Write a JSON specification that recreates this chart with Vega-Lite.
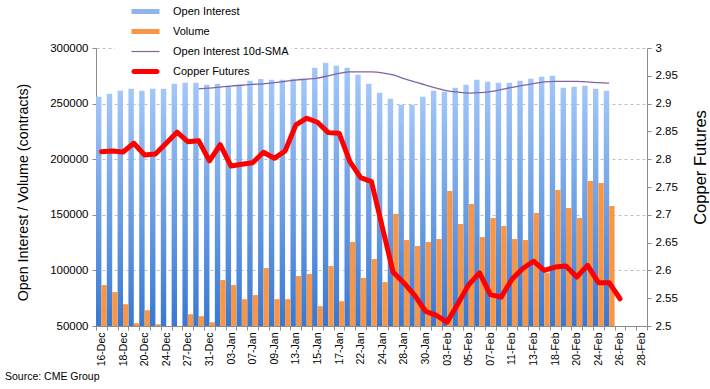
{
  "$schema": "https://vega.github.io/schema/vega-lite/v6.json",
  "width": 551,
  "height": 278,
  "autosize": {"type": "none"},
  "padding": {"left": 96, "top": 48, "right": 63, "bottom": 63},
  "background": "white",
  "config": {
    "view": {"stroke": null},
    "font": "Liberation Sans",
    "axis": {"domainColor": "#8c8c8c", "tickColor": "#8c8c8c", "labelColor": "#000000", "titleColor": "#000000", "titleFontWeight": "normal"}
  },
  "title": {"text": "Source: CME Group", "orient": "bottom", "anchor": "start", "frame": "group", "dx": -91, "offset": 6, "fontSize": 10.5, "fontWeight": "normal", "color": "#000000"},
  "data": {"values": [
    {"date": "16-Dec", "oi": 256100, "vol": 86800, "sma": null, "cu": 2.8135},
    {"date": "17-Dec", "oi": 258800, "vol": 80500, "sma": null, "cu": 2.8148},
    {"date": "18-Dec", "oi": 261500, "vol": 69600, "sma": null, "cu": 2.813},
    {"date": "19-Dec", "oi": 263300, "vol": 52500, "sma": null, "cu": 2.8286},
    {"date": "20-Dec", "oi": 261500, "vol": 64200, "sma": null, "cu": 2.8076},
    {"date": "23-Dec", "oi": 263300, "vol": 51600, "sma": null, "cu": 2.8094},
    {"date": "24-Dec", "oi": 263300, "vol": 50000, "sma": null, "cu": 2.8286},
    {"date": "26-Dec", "oi": 267800, "vol": 50000, "sma": null, "cu": 2.8485},
    {"date": "27-Dec", "oi": 268700, "vol": 60600, "sma": null, "cu": 2.8315},
    {"date": "30-Dec", "oi": 268700, "vol": 58800, "sma": 263300, "cu": 2.8333},
    {"date": "31-Dec", "oi": 266900, "vol": 53400, "sma": 264000, "cu": 2.797},
    {"date": "02-Jan", "oi": 267800, "vol": 91300, "sma": 264900, "cu": 2.826},
    {"date": "03-Jan", "oi": 266000, "vol": 86800, "sma": 265800, "cu": 2.7877},
    {"date": "06-Jan", "oi": 266900, "vol": 74100, "sma": 266500, "cu": 2.791},
    {"date": "07-Jan", "oi": 270500, "vol": 77800, "sma": 267200, "cu": 2.7937},
    {"date": "08-Jan", "oi": 272300, "vol": 102100, "sma": 267800, "cu": 2.8124},
    {"date": "09-Jan", "oi": 271400, "vol": 74100, "sma": 268800, "cu": 2.8016},
    {"date": "10-Jan", "oi": 271400, "vol": 74100, "sma": 270000, "cu": 2.8148},
    {"date": "13-Jan", "oi": 272300, "vol": 94900, "sma": 271200, "cu": 2.8616},
    {"date": "14-Jan", "oi": 272300, "vol": 96700, "sma": 272000, "cu": 2.8737},
    {"date": "15-Jan", "oi": 282300, "vol": 67800, "sma": 273000, "cu": 2.8665},
    {"date": "16-Jan", "oi": 286800, "vol": 103900, "sma": 275000, "cu": 2.8478},
    {"date": "17-Jan", "oi": 284100, "vol": 72300, "sma": 277100, "cu": 2.8467},
    {"date": "21-Jan", "oi": 282300, "vol": 125500, "sma": 278600, "cu": 2.7955},
    {"date": "22-Jan", "oi": 275900, "vol": 93100, "sma": 278600, "cu": 2.7667},
    {"date": "23-Jan", "oi": 267800, "vol": 110200, "sma": 278500, "cu": 2.7595},
    {"date": "24-Jan", "oi": 259700, "vol": 89500, "sma": 277700, "cu": 2.678},
    {"date": "27-Jan", "oi": 254300, "vol": 150700, "sma": 275800, "cu": 2.597},
    {"date": "28-Jan", "oi": 248900, "vol": 127300, "sma": 272500, "cu": 2.5775},
    {"date": "29-Jan", "oi": 248900, "vol": 121900, "sma": 269500, "cu": 2.555},
    {"date": "30-Jan", "oi": 256100, "vol": 125500, "sma": 266700, "cu": 2.5265},
    {"date": "31-Jan", "oi": 261500, "vol": 128200, "sma": 264000, "cu": 2.519},
    {"date": "03-Feb", "oi": 260600, "vol": 171400, "sma": 261500, "cu": 2.507},
    {"date": "04-Feb", "oi": 264200, "vol": 141700, "sma": 260300, "cu": 2.54},
    {"date": "05-Feb", "oi": 266900, "vol": 159700, "sma": 259500, "cu": 2.5745},
    {"date": "06-Feb", "oi": 271400, "vol": 130000, "sma": 259800, "cu": 2.5955},
    {"date": "07-Feb", "oi": 269600, "vol": 147100, "sma": 260800, "cu": 2.5565},
    {"date": "10-Feb", "oi": 268700, "vol": 139900, "sma": 262600, "cu": 2.552},
    {"date": "11-Feb", "oi": 268700, "vol": 128200, "sma": 264600, "cu": 2.584},
    {"date": "12-Feb", "oi": 270500, "vol": 127300, "sma": 266300, "cu": 2.6035},
    {"date": "13-Feb", "oi": 272300, "vol": 151600, "sma": 268000, "cu": 2.6165},
    {"date": "14-Feb", "oi": 274100, "vol": 97600, "sma": 269500, "cu": 2.6},
    {"date": "18-Feb", "oi": 275000, "vol": 172300, "sma": 270000, "cu": 2.606},
    {"date": "19-Feb", "oi": 264200, "vol": 156100, "sma": 270000, "cu": 2.608},
    {"date": "20-Feb", "oi": 265100, "vol": 147100, "sma": 269900, "cu": 2.588},
    {"date": "21-Feb", "oi": 266000, "vol": 180500, "sma": 269500, "cu": 2.609},
    {"date": "24-Feb", "oi": 263300, "vol": 178600, "sma": 268800, "cu": 2.578},
    {"date": "25-Feb", "oi": 261500, "vol": 157900, "sma": 268400, "cu": 2.578},
    {"date": "26-Feb", "oi": null, "vol": null, "sma": null, "cu": 2.549},
    {"date": "27-Feb", "oi": null, "vol": null, "sma": null, "cu": null},
    {"date": "28-Feb", "oi": null, "vol": null, "sma": null, "cu": null}
  ]},
  "encoding": {
    "x": {
      "field": "date", "type": "ordinal", "sort": null,
      "scale": {
        "domain": ["16-Dec","17-Dec","18-Dec","19-Dec","20-Dec","23-Dec","24-Dec","26-Dec","27-Dec","30-Dec","31-Dec","02-Jan","03-Jan","06-Jan","07-Jan","08-Jan","09-Jan","10-Jan","13-Jan","14-Jan","15-Jan","16-Jan","17-Jan","21-Jan","22-Jan","23-Jan","24-Jan","27-Jan","28-Jan","29-Jan","30-Jan","31-Jan","03-Feb","04-Feb","05-Feb","06-Feb","07-Feb","10-Feb","11-Feb","12-Feb","13-Feb","14-Feb","18-Feb","19-Feb","20-Feb","21-Feb","24-Feb","25-Feb","26-Feb","27-Feb","28-Feb"],
        "paddingInner": 0, "paddingOuter": 0
      },
      "axis": {
        "title": null,
        "labelAngle": -90,
        "labelFontSize": 10.5,
        "labelOverlap": false,
        "labelPadding": 2,
        "tickBand": "extent",
        "tickSize": 4,
        "labelExpr": "indexof(['16-Dec','18-Dec','20-Dec','24-Dec','27-Dec','31-Dec','03-Jan','07-Jan','09-Jan','13-Jan','15-Jan','17-Jan','22-Jan','24-Jan','28-Jan','30-Jan','03-Feb','05-Feb','07-Feb','11-Feb','13-Feb','18-Feb','20-Feb','24-Feb','26-Feb','28-Feb'], datum.value) >= 0 ? datum.label : ''"
      }
    }
  },
  "layer": [
    {
      "layer": [
        {
          "mark": {"type": "bar", "fill": {"gradient": "linear", "x1": 0, "y1": 0, "x2": 0, "y2": 1, "stops": [{"offset": 0, "color": "#A3C7F8"}, {"offset": 1, "color": "#3878D2"}]}},
          "encoding": {
            "xOffset": {"datum": "Open Interest", "scale": {"domain": ["Open Interest", "Volume"], "paddingInner": 0, "paddingOuter": 0}},
            "y": {
              "field": "oi", "type": "quantitative", "title": "Open Interest / Volume (contracts)",
              "scale": {"domain": [50000, 300000], "zero": false, "nice": false},
              "axis": {
                "values": [50000, 100000, 150000, 200000, 250000, 300000],
                "format": "d",
                "labelFontSize": 11.5,
                "labelPadding": 4,
                "tickSize": 4,
                "titleFontSize": 14.3,
                "titlePadding": 19,
                "titleY": 144,
                "grid": true,
                "gridColor": "#BDBDBD",
                "gridDash": [3, 3]
              }
            },
            "y2": {"datum": 50000}
          }
        },
        {
          "mark": {"type": "bar"},
          "encoding": {
            "xOffset": {"datum": "Volume", "scale": {"domain": ["Open Interest", "Volume"], "paddingInner": 0, "paddingOuter": 0}},
            "y": {"field": "vol", "type": "quantitative", "title": "Open Interest / Volume (contracts)"},
            "y2": {"datum": 50000},
            "color": {
              "datum": "Volume",
              "scale": {"domain": ["Open Interest", "Volume", "Open Interest 10d-SMA", "Copper Futures"], "range": ["#8DB6EE", "#F79646", "#8064A2", "#FF0000"]},
              "legend": {
                "title": null,
                "orient": "none",
                "legendX": 19,
                "legendY": -44,
                "direction": "vertical",
                "fillColor": "white",
                "padding": 2,
                "symbolSize": 100,
                "symbolOffset": 23,
                "labelOffset": 22,
                "labelFontSize": 11,
                "labelColor": "#000000",
                "rowPadding": 8,
                "symbolStrokeWidth": 0,
                "encode": {
                  "symbols": {
                    "update": {
                      "shape": {"signal": "(datum.value == 'Open Interest' || datum.value == 'Volume') ? 'M-2.8,-0.5H2.8V0.5H-2.8Z' : (datum.value == 'Copper Futures' ? 'M-2.3,-0.5H2.3A0.5,0.5 0 0 1 2.3,0.5H-2.3A0.5,0.5 0 0 1 -2.3,-0.5Z' : 'M-2.8,-0.12H2.8V0.12H-2.8Z')"},
                      "fill": {"signal": "scale('color', datum.value)"},
                      "strokeWidth": {"value": 0},
                      "opacity": {"value": 1}
                    }
                  }
                }
              }
            }
          }
        },
        {
          "mark": {"type": "line", "strokeWidth": 1.3, "interpolate": "monotone"},
          "encoding": {
            "y": {"field": "sma", "type": "quantitative", "title": "Open Interest / Volume (contracts)"},
            "color": {"datum": "Open Interest 10d-SMA"}
          }
        }
      ]
    },
    {
      "mark": {"type": "line", "strokeWidth": 5, "strokeJoin": "round", "strokeCap": "round"},
      "encoding": {
        "y": {
          "field": "cu", "type": "quantitative", "title": "Copper Futures",
          "scale": {"domain": [2.5, 3.0], "zero": false, "nice": false},
          "axis": {
            "orient": "right",
            "values": [2.5, 2.55, 2.6, 2.65, 2.7, 2.75, 2.8, 2.85, 2.9, 2.95, 3.0],
            "format": "~g",
            "labelFontSize": 11.5,
            "labelPadding": 4,
            "tickSize": 4,
            "grid": false,
            "titleFontSize": 16.5,
            "titleAngle": 270,
            "titlePadding": 31,
            "titleY": 119
          }
        },
        "color": {"datum": "Copper Futures"}
      }
    }
  ],
  "resolve": {"scale": {"y": "independent"}, "axis": {"y": "independent"}}
}
